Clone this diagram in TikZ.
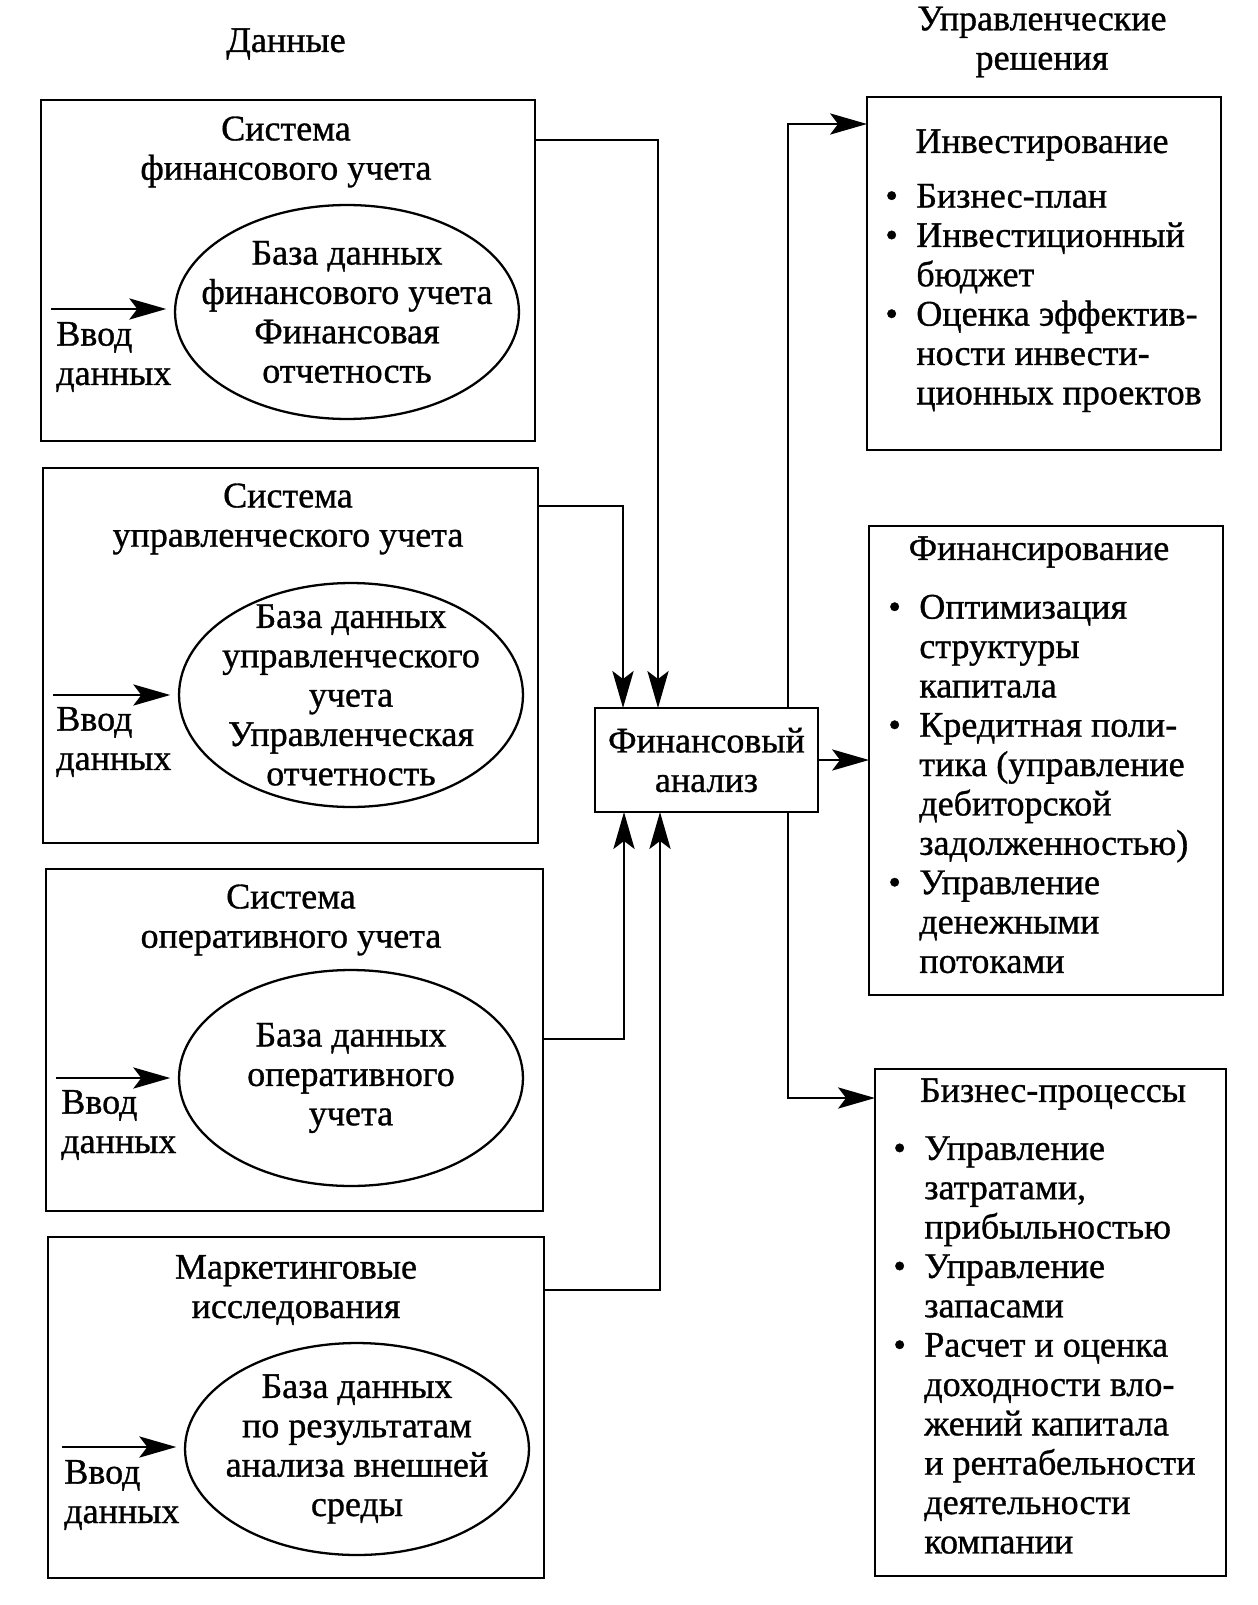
\documentclass[tikz,border=0pt]{standalone}
\usepackage{fontspec}
\setmainfont{Liberation Serif}[FakeBold=0.9]
\usetikzlibrary{arrows.meta, shapes.geometric}

\newcommand{\blt}{\makebox[0.62cm][l]{\textbullet}}
\newcommand{\bltgap}{\hspace*{0.62cm}}

\begin{document}
\begin{tikzpicture}[
		x = 0.02cm, y = -0.02cm,
		font = \fontsize{20.5}{22.4}\selectfont,
		>={Stealth[length=21pt, width=12pt, inset=4.5pt]},
		databox/.style={rectangle, draw, line width=1.6pt, inner sep=0pt, outer sep=0pt},
		dbase/.style={ellipse, draw, line width=1.3pt, inner sep=0pt, outer sep=0pt, minimum width=6.88cm},
		txt/.style={align=center, inner sep=0pt},
		ltxt/.style={align=left, inner sep=0pt},
		link/.style={line width=1.6pt}
		]
		\useasboundingbox (0,0) rectangle (1257,1605);
		
		\node[txt](H1) at (286,44){Данные};
		\node[txt](H2) at (1042,42){Управленческие\\решения};
		
		\node[databox, minimum width = 9.88cm, minimum height = 6.82cm](D1) at (288,270.5){};
		\node[databox, minimum width = 9.9cm, minimum height = 7.5cm](D2) at (290.5,655.5){};
		\node[databox, minimum width = 9.94cm, minimum height = 6.84cm](D3) at (294.5,1040){};
		\node[databox, minimum width = 9.92cm, minimum height = 6.82cm](D4) at (296,1407.5){};
		
		\node[txt](T1) at (286,152){Система\\финансового учета};
		\node[txt](T2) at (288,519){Система\\управленческого учета};
		\node[txt](T3) at (291,920){Система\\оперативного учета};
		\node[txt](T4) at (296,1290){Маркетинговые\\исследования};
		
		\node[dbase, minimum height = 4.28cm](E1) at (347,312){};
		\node[dbase, minimum height = 4.48cm](E2) at (351,695){};
		\node[dbase, minimum height = 4.32cm](E3) at (351,1078){};
		\node[dbase, minimum height = 4.24cm](E4) at (357,1449){};
		
		\node[txt](E1t) at (E1){База данных\\финансового учета\\Финансовая\\отчетность};
		\node[txt](E2t) at (E2){База данных\\управленческого\\учета\\Управленческая\\отчетность};
		\node[txt](E3t) at (E3){База данных\\оперативного\\учета};
		\node[txt](E4t) at (E4){База данных\\по результатам\\анализа внешней\\среды};
		
		\coordinate (I1) at (51,309);
		\coordinate (I2) at (53,695);
		\coordinate (I3) at (56,1078);
		\coordinate (I4) at (62,1447);
		\node[ltxt, anchor = west](V1) at (56,357){Ввод\\данных};
		\node[ltxt, anchor = west](V2) at (56,742){Ввод\\данных};
		\node[ltxt, anchor = west](V3) at (61,1125){Ввод\\данных};
		\node[ltxt, anchor = west](V4) at (64,1495){Ввод\\данных};
		
		\node[databox, minimum width = 4.46cm, minimum height = 2.08cm, align = center](FA) at (706.5,760){Финансовый\\анализ};
		
		\node[databox, minimum width = 7.08cm, minimum height = 7.06cm](R1) at (1044,273.5){};
		\node[databox, minimum width = 7.08cm, minimum height = 9.38cm](R2) at (1046,760.5){};
		\node[databox, minimum width = 7.02cm, minimum height = 10.14cm](R3) at (1050.5,1322.5){};
		
		\node[txt](R1h) at (1042,145){Инвестирование};
		\node[txt](R2h) at (1039,552){Финансирование};
		\node[txt](R3h) at (1053,1094){Бизнес-процессы};
		
		\node[ltxt, anchor = west](R1b) at (885,298){\blt Бизнес-план\\
			\blt Инвестиционный\\ \bltgap бюджет\\
			\blt Оценка эффектив-\\ \bltgap ности инвести-\\ \bltgap ционных проектов};
		\node[ltxt, anchor = west](R2b) at (888,784){\blt Оптимизация\\ \bltgap структуры\\ \bltgap капитала\\
			\blt Кредитная поли-\\ \bltgap тика (управление\\ \bltgap дебиторской\\ \bltgap задолженностью)\\
			\blt Управление\\ \bltgap денежными\\ \bltgap потоками};
		\node[ltxt, anchor = west](R3b) at (893,1345){\blt Управление\\ \bltgap затратами,\\ \bltgap прибыльностью\\
			\blt Управление\\ \bltgap запасами\\
			\blt Расчет и оценка\\ \bltgap доходности вло-\\ \bltgap жений капитала\\ \bltgap и рентабельности\\ \bltgap деятельности\\ \bltgap компании};
		
		\coordinate (J1) at (658,140);
		\coordinate (J2) at (623,506);
		\coordinate (J3) at (624,1039);
		\coordinate (J4) at (660,1290);
		\coordinate (K1) at (788,124);
		\coordinate (K3) at (788,1098);
		
		\draw[link, ->, shorten >= 5pt] (I1) -- (I1 -| E1.west);
		\draw[link, ->, shorten >= 5pt] (I2) -- (I2 -| E2.west);
		\draw[link, ->, shorten >= 5pt] (I3) -- (I3 -| E3.west);
		\draw[link, ->, shorten >= 5pt] (I4) -- (I4 -| E4.west);
		
		\draw[link, ->] (D1.east |- J1) -- (J1) -- (J1 |- FA.north);
		\draw[link, ->] (D2.east |- J2) -- (J2) -- (J2 |- FA.north);
		\draw[link, ->] (D3.east |- J3) -- (J3) -- (J3 |- FA.south);
		\draw[link, ->] (D4.east |- J4) -- (J4) -- (J4 |- FA.south);
		
		\draw[link, ->] (FA.north -| K1) -- (K1) -- (K1 -| R1.west);
		\draw[link, ->] (FA.east) -- (FA.east -| R2.west);
		\draw[link, ->] (FA.south -| K3) -- (K3) -- (K3 -| R3.west);
		
	\end{tikzpicture}
\end{document}
